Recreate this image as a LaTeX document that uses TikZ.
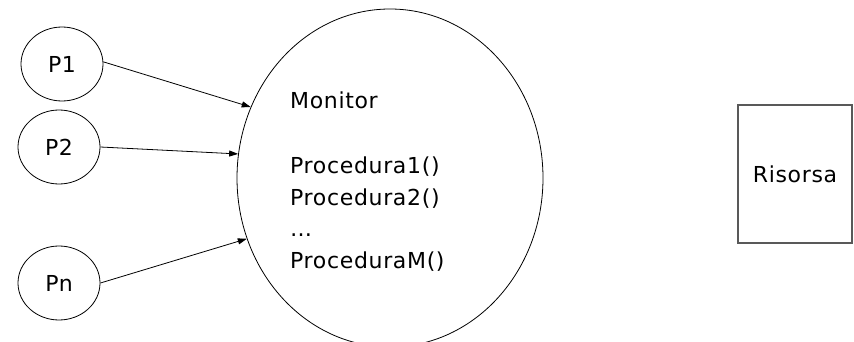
\documentclass[tikz,border=0pt]{standalone}
\usepackage{fontspec}
\setmainfont{DejaVu Sans}[LetterSpace=3]
\usetikzlibrary{shapes.geometric,arrows.meta}
\tikzset{
  proc/.style={ellipse, draw, line width=0.8pt, inner sep=0pt, minimum width=82pt, minimum height=74pt, font=\fontsize{22}{26}\selectfont},
  mon/.style={ellipse, draw, line width=0.8pt, inner sep=0pt, minimum width=306pt, minimum height=338pt},
  montxt/.style={anchor=base west, inner sep=0pt, font=\fontsize{22}{26}\selectfont},
  res/.style={rectangle, draw=black!65, line width=1.3pt, minimum width=114pt, minimum height=138pt, font=\fontsize{22}{26}\selectfont},
  conn/.style={line width=0.8pt, -{Triangle[length=9pt,width=6pt]}}
}
\begin{document}
\begin{tikzpicture}[x=1pt,y=-1pt]
\useasboundingbox (0,0) rectangle (854,342);
\node[proc] (P1) at (62,64) {P1};
\node[proc] (P2) at (59,147) {P2};
\node[proc] (Pn) at (59,283) {Pn};
\node[mon] (M) at (390,178) {};
\node[montxt] (t0) at (290,109) {Monitor};
\node[montxt] (t1) at (290,173) {Procedura1()};
\node[montxt] (t2) at (290,205) {Procedura2()};
\node[montxt] (t3) at (290,236) {…};
\node[montxt] (t4) at (290,268) {ProceduraM()};
\node[res] (R) at (795,174) {Risorsa};
\draw[conn] (P1.3) -- (M.153);
\draw[conn] (P2.east) -- (M.171);
\draw[conn] (Pn.east) -- (M.203);
\end{tikzpicture}
\end{document}
